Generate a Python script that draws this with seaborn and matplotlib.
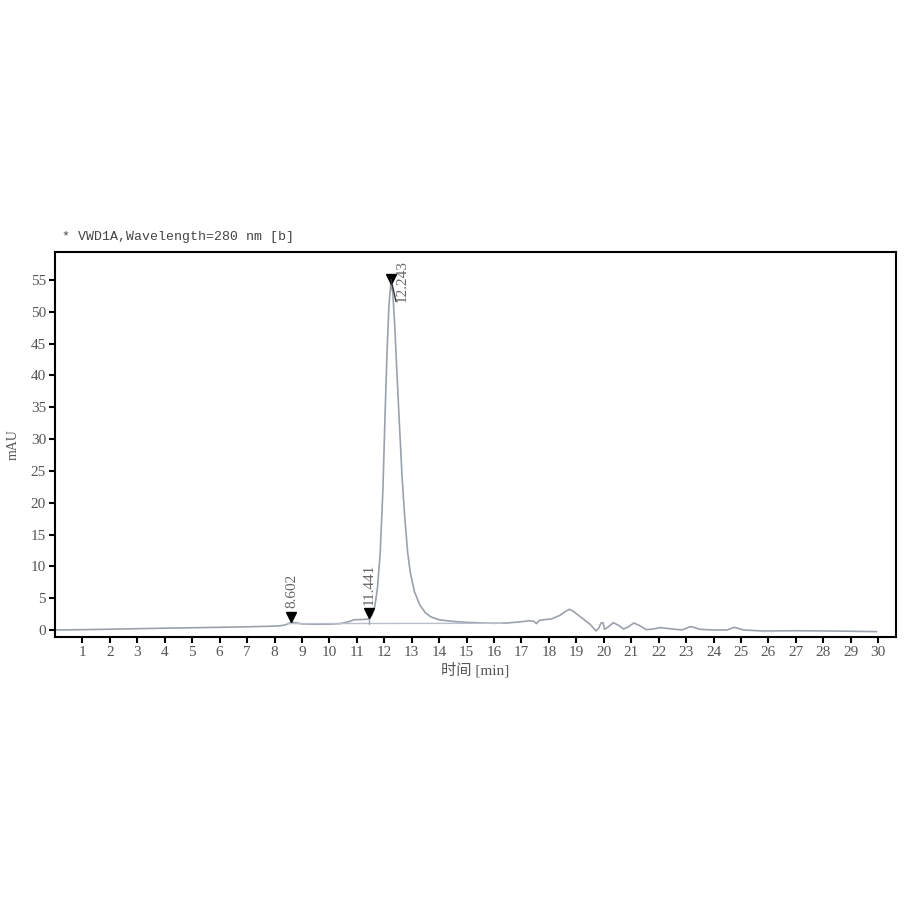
import numpy as np
import pandas as pd
import seaborn as sns
import matplotlib.pyplot as plt

# trace (min, mAU)
time_min = [0.0, 1.0, 2.0, 3.0, 4.0, 5.0, 6.0, 7.0, 7.8, 8.2, 8.4, 8.6, 8.75, 9.0, 9.5,
            10.0, 10.4, 10.7, 10.9, 11.2, 11.45, 11.55, 11.65, 11.75, 11.85, 11.95,
            12.03, 12.1, 12.17, 12.24, 12.31, 12.38, 12.45, 12.55, 12.65, 12.75, 12.85,
            12.95, 13.1, 13.3, 13.5, 13.7, 14.0, 14.5, 15.0, 15.5, 16.0, 16.5, 17.0,
            17.3, 17.45, 17.55, 17.65, 17.8, 18.1, 18.4, 18.6, 18.75, 18.9, 19.2, 19.5,
            19.72, 19.82, 19.9, 19.97, 20.03, 20.15, 20.35, 20.55, 20.72, 20.9, 21.1,
            21.3, 21.55, 21.8, 22.05, 22.4, 22.85, 23.15, 23.3, 23.5, 24.0, 24.5, 24.75,
            25.1, 25.8, 27.0, 28.0, 29.0, 29.95]
signal_mau = [0.0, 0.05, 0.12, 0.2, 0.28, 0.35, 0.42, 0.5, 0.58, 0.65, 0.8, 1.2, 1.15,
              0.95, 0.9, 0.92, 1.0, 1.3, 1.6, 1.65, 1.7, 2.3, 3.6, 6.5, 12.0, 22.0, 34.0,
              43.5, 51.0, 54.5, 53.0, 48.0, 41.5, 32.5, 24.0, 17.5, 12.3, 9.0, 6.0, 3.9,
              2.7, 2.05, 1.6, 1.35, 1.2, 1.12, 1.05, 1.1, 1.3, 1.45, 1.35, 1.0, 1.5, 1.6,
              1.75, 2.3, 2.9, 3.25, 2.9, 1.9, 0.9, -0.15, 0.3, 1.1, 1.15, 0.1, 0.45, 1.15,
              0.7, 0.15, 0.5, 1.1, 0.7, 0.05, 0.15, 0.37, 0.2, 0.0, 0.52, 0.4, 0.1, 0.0,
              0.0, 0.42, 0.0, -0.16, -0.12, -0.15, -0.2, -0.26]

# integration baseline
base_time = [8.45, 16.3]
base_mau = [1.0, 1.05]

# peak labels
peak_times = [8.602, 11.441, 12.243]
peak_marker_mau = [2.0, 2.7, 55.1]
peak_label_mau = [3.4, 4.0, 51.6]
peak_label_x = [8.65, 11.46, 12.66]
peak_labels = ["8.602", "11.441", "12.243"]

df = pd.DataFrame({"time": time_min, "mAU": signal_mau})

sns.set_style("ticks")
plt.rcParams["font.family"] = ["Liberation Serif", "Noto Sans CJK SC"]

fig = plt.figure(figsize=(9.11, 9.11), dpi=100)
ax = fig.add_axes([0.0604, 0.3008, 0.9231, 0.4226])

sns.lineplot(data=df, x="time", y="mAU", ax=ax, sort=False, color="#9ba1ab", linewidth=1.2)
ax.plot(base_time, base_mau, color="#b9c0cc", linewidth=1.0)
ax.plot([11.441, 11.441], [1.0, 1.7], color="#9ba1ab", linewidth=1.0)

ax.plot(peak_times, peak_marker_mau, linestyle="none", marker="v", color="black", markersize=7.5)
ax.plot([12.243, 12.43], [55.1, 51.6], color="#333333", linewidth=1.0)
for x, y, lab in zip(peak_label_x, peak_label_mau, peak_labels):
    ax.text(x, y, lab, rotation=90, ha="center", va="bottom", fontsize=11, color="#666666")

ax.set_xlim(0, 30.65)
ax.set_ylim(-1.1, 59.4)
ax.set_xticks(range(1, 31))
ax.set_yticks(range(0, 56, 5))
ax.tick_params(direction="out", length=4.5, width=1.5, labelsize=11, colors="black",
               labelcolor="#555555", pad=2)
for s in ax.spines.values():
    s.set_visible(True)
    s.set_linewidth(1.5)
    s.set_color("black")

ax.set_xlabel("时间 [min]", fontsize=11, color="#555555", labelpad=2)
ax.set_ylabel("mAU", fontsize=10, color="#555555", labelpad=8)
ax.text(0.008, 1.04, "* VWD1A,Wavelength=280 nm [b]", transform=ax.transAxes,
        fontsize=9.5, family="Liberation Mono", color="#444444", va="center")

fig.savefig("out.png", dpi=100)
